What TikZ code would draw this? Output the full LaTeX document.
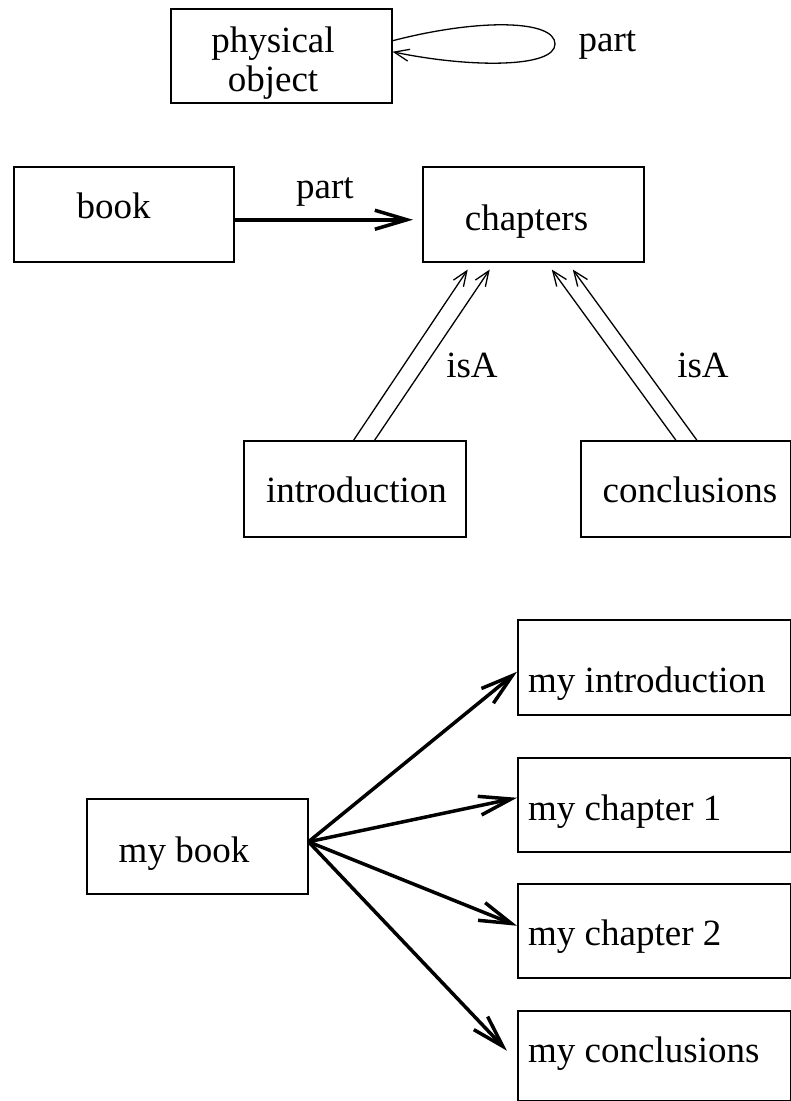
\documentclass[tikz,border=0pt]{standalone}
\usepackage{fontspec}
\setmainfont{Liberation Serif}
\usetikzlibrary{arrows.meta}
\begin{document}
\begin{tikzpicture}[x=1pt,y=-1pt,
  box/.style={draw, line width=1.5pt, rectangle, inner sep=0pt, anchor=north west},
  lbl/.style={inner sep=0pt, font=\fontsize{37}{39}\selectfont},
  bigarrow/.style={line width=3.5pt, -{Straight Barb[length=32pt,width=19pt]}},
  smallarrow/.style={line width=1.3pt, -{Straight Barb[length=15pt,width=12pt]}},
]
\useasboundingbox (0,0) rectangle (791,1101);
% boxes
\node[box, minimum width=221pt, minimum height=94pt] (phys) at (170,8) {};
\node[box, minimum width=220pt, minimum height=95pt] (book) at (13,166) {};
\node[box, minimum width=221pt, minimum height=95pt] (chap) at (422,166) {};
\node[box, minimum width=222pt, minimum height=96pt] (intro) at (243,440) {};
\node[box, minimum width=210pt, minimum height=96pt] (concl) at (580,440) {};
\node[box, minimum width=221pt, minimum height=95pt] (mybook) at (86,798) {};
\node[box, minimum width=273pt, minimum height=95pt] (myintro) at (517,619) {};
\node[box, minimum width=273pt, minimum height=94pt] (mych1) at (517,757) {};
\node[box, minimum width=273pt, minimum height=94pt] (mych2) at (517,883) {};
\node[box, minimum width=273pt, minimum height=90pt] (myconc) at (517,1010) {};
% texts
\node[lbl, align=center, anchor=base] (tphys) at (273,91) {physical\\object};
\node[lbl, anchor=base] (tbook) at (113.5,218) {book};
\node[lbl, anchor=base] (tchap) at (526.5,230) {chapters};
\node[lbl, anchor=base] (tintro) at (356.5,502) {introduction};
\node[lbl, anchor=base] (tconcl) at (690,502) {conclusions};
\node[lbl, anchor=base] (tmybook) at (184,862) {my book};
\node[lbl, anchor=base west] (tmyintro) at (528,692) {my introduction};
\node[lbl, anchor=base west] (tmych1) at (528,820) {my chapter 1};
\node[lbl, anchor=base west] (tmych2) at (528,945) {my chapter 2};
\node[lbl, anchor=base west] (tmyconc) at (528,1062) {my conclusions};
% edge labels
\node[lbl, anchor=base] (lpart1) at (607.5,51) {part};
\node[lbl, anchor=base] (lpart2) at (325,198) {part};
\node[lbl, anchor=base] (lisa1) at (472,377) {isA};
\node[lbl, anchor=base] (lisa2) at (703,377) {isA};
% self loop
\draw[smallarrow] ([yshift=15pt]phys.east) .. controls (480,18) and (555,20) .. (555,44)
  .. controls (555,68) and (470,68) .. ([yshift=4pt]phys.east);
% book -> chapters
\draw[bigarrow] ([yshift=-5.5pt]book.east) -- ([yshift=-5.5pt,xshift=-9pt]chap.west);
% isA double arrows
\draw[smallarrow] ([xshift=-1pt]intro.north) -- ([xshift=-65.5pt,yshift=-7pt]chap.south);
\draw[smallarrow] ([xshift=20pt]intro.north) -- ([xshift=-43.5pt,yshift=-7pt]chap.south);
\draw[smallarrow] ([xshift=-10pt]concl.north) -- ([xshift=18.5pt,yshift=-7pt]chap.south);
\draw[smallarrow] ([xshift=11pt]concl.north) -- ([xshift=39.5pt,yshift=-7pt]chap.south);
% my book arrows
\draw[bigarrow] ([yshift=4.5pt]mybook.east) -- ([yshift=-4.5pt]myintro.west);
\draw[bigarrow] ([yshift=4.5pt]mybook.east) -- ([yshift=7pt]mych1.west);
\draw[bigarrow] ([yshift=4.5pt]mybook.east) -- ([yshift=5pt]mych2.west);
\draw[bigarrow] ([yshift=4.5pt]mybook.east) -- ([yshift=5pt,xshift=-10pt]myconc.west);
\end{tikzpicture}
\end{document}
